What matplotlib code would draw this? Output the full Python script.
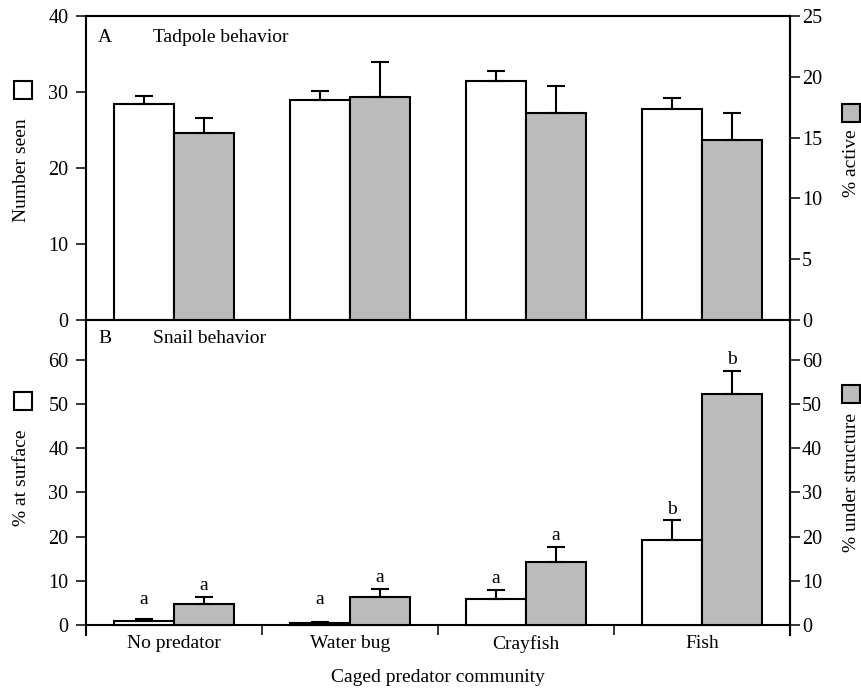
import matplotlib
matplotlib.use('Agg')
import matplotlib.pyplot as plt
from matplotlib.patches import Rectangle
import numpy as np

plt.rcParams['font.family'] = ['Liberation Serif', 'DejaVu Serif']
plt.rcParams['font.size'] = 14

# ---------------- data ----------------
categories = ["No predator", "Water bug", "Crayfish", "Fish"]

tad_seen = [28.4, 29.0, 31.5, 27.7]
tad_seen_se = [1.1, 1.1, 1.3, 1.5]
tad_active = [15.35, 18.3, 17.05, 14.8]
tad_active_se = [1.25, 2.9, 2.2, 2.25]

snail_surface = [0.9, 0.4, 6.0, 19.2]
snail_surface_se = [0.5, 0.3, 1.9, 4.5]
snail_under = [4.8, 6.3, 14.3, 52.2]
snail_under_se = [1.6, 1.8, 3.4, 5.3]
letters_surface = ['a', 'a', 'a', 'b']
letters_under = ['a', 'a', 'a', 'b']

top_left_ticks = [0, 10, 20, 30, 40]
top_right_ticks = [0, 5, 10, 15, 20, 25]
bot_ticks = [0, 10, 20, 30, 40, 50, 60]

# ---------------- styling ----------------
W, H = 861, 691
GRAY = '#bbbbbb'
LW = 1.5
fig = plt.figure(figsize=(W / 100, H / 100), dpi=100)
L = 86 / W
R = 790 / W
axA = fig.add_axes([L, 1 - 320 / H, R - L, (320 - 16) / H])
axB = fig.add_axes([L, 1 - 635 / H, R - L, (635 - 320) / H])

x = np.arange(len(categories))
bw = 0.34
zeros = np.zeros(len(categories))
ebkw = dict(fmt='none', ecolor='black', elinewidth=LW, capsize=6.5, capthick=LW, zorder=4)


def style_y(ax, side):
    ax.tick_params(axis='y', which='major', direction='out', length=7.2, width=1.1,
                   labelsize=14.5, pad=(5.5 if side == 'left' else 1.5), colors='black')


# ---- Panel A ----
axA.bar(x - bw / 2, tad_seen, bw, color='white', edgecolor='black', linewidth=LW, zorder=3)
axA.errorbar(x - bw / 2, tad_seen, yerr=[zeros, tad_seen_se], **ebkw)
axA.set_xlim(-0.5, 3.5)
axA.set_ylim(0, 40)
axA.set_yticks(top_left_ticks)
axA.set_xticks([])
style_y(axA, 'left')
for s in axA.spines.values():
    s.set_linewidth(LW)

axA2 = axA.twinx()
axA2.bar(x + bw / 2, tad_active, bw, color=GRAY, edgecolor='black', linewidth=LW, zorder=3)
axA2.errorbar(x + bw / 2, tad_active, yerr=[zeros, tad_active_se], **ebkw)
axA2.set_ylim(0, 25)
axA2.set_yticks(top_right_ticks)
style_y(axA2, 'right')
for k, s in axA2.spines.items():
    s.set_linewidth(LW)
    if k != 'right':
        s.set_visible(False)

# ---- Panel B ----
axB.bar(x - bw / 2, snail_surface, bw, color='white', edgecolor='black', linewidth=LW, zorder=3)
axB.errorbar(x - bw / 2, snail_surface, yerr=[zeros, snail_surface_se], **ebkw)
axB.bar(x + bw / 2, snail_under, bw, color=GRAY, edgecolor='black', linewidth=LW, zorder=3)
axB.errorbar(x + bw / 2, snail_under, yerr=[zeros, snail_under_se], **ebkw)
axB.set_xlim(-0.5, 3.5)
axB.set_ylim(-2.26, 69.05)
axB.set_yticks(bot_ticks)
style_y(axB, 'left')
for s in axB.spines.values():
    s.set_linewidth(LW)
axB.spines['bottom'].set_position(('data', 0))
axB.set_xticks(np.arange(-0.5, 4.0, 1.0))
axB.set_xticklabels([])
axB.set_xticks(x, minor=True)
axB.set_xticklabels(categories, minor=True)
axB.tick_params(axis='x', which='major', direction='out', length=7.2, width=1.1)
axB.tick_params(axis='x', which='minor', length=0, pad=7.5, labelsize=14)

for xi, v, e, lab in zip(x - bw / 2, snail_surface, snail_surface_se, letters_surface):
    axB.annotate(lab, (xi, max(v + e, 3.2)), xytext=(0, 2), textcoords='offset points',
                 ha='center', va='bottom', fontsize=14)
for xi, v, e, lab in zip(x + bw / 2, snail_under, snail_under_se, letters_under):
    axB.annotate(lab, (xi, v + e), xytext=(0, 2), textcoords='offset points',
                 ha='center', va='bottom', fontsize=14)

axB2 = axB.twinx()
axB2.set_ylim(axB.get_ylim())
axB2.set_yticks(bot_ticks)
style_y(axB2, 'right')
for k, s in axB2.spines.items():
    s.set_linewidth(LW)
    if k != 'right':
        s.set_visible(False)

# ---- text labels ----
def fx(px):
    return px / W


def fy(py):
    return 1 - py / H


fig.text(fx(98), fy(42), 'A', fontsize=14, va='baseline', ha='left')
fig.text(fx(153), fy(42), 'Tadpole behavior', fontsize=14, va='baseline', ha='left')
fig.text(fx(98), fy(343), 'B', fontsize=14, va='baseline', ha='left')
fig.text(fx(153), fy(343), 'Snail behavior', fontsize=14, va='baseline', ha='left')

fig.text(fx(22), fy(170), 'Number seen', rotation=90, ha='center', va='center', fontsize=14)
fig.text(fx(851), fy(163), '% active', rotation=90, ha='center', va='center', fontsize=14)
fig.text(fx(22), fy(478), '% at surface', rotation=90, ha='center', va='center', fontsize=14)
fig.text(fx(851), fy(482), '% under structure', rotation=90, ha='center', va='center', fontsize=14)
fig.text(fx(438), fy(677), 'Caged predator community', ha='center', va='center', fontsize=14)

for (px, py, fc) in [(14, 81, 'white'), (842, 104, GRAY), (14, 392, 'white'), (842, 385, GRAY)]:
    fig.add_artist(Rectangle((fx(px), fy(py + 18)), 18 / W, 18 / H, transform=fig.transFigure,
                             facecolor=fc, edgecolor='black', linewidth=LW))

fig.savefig('out.png', dpi=100)
